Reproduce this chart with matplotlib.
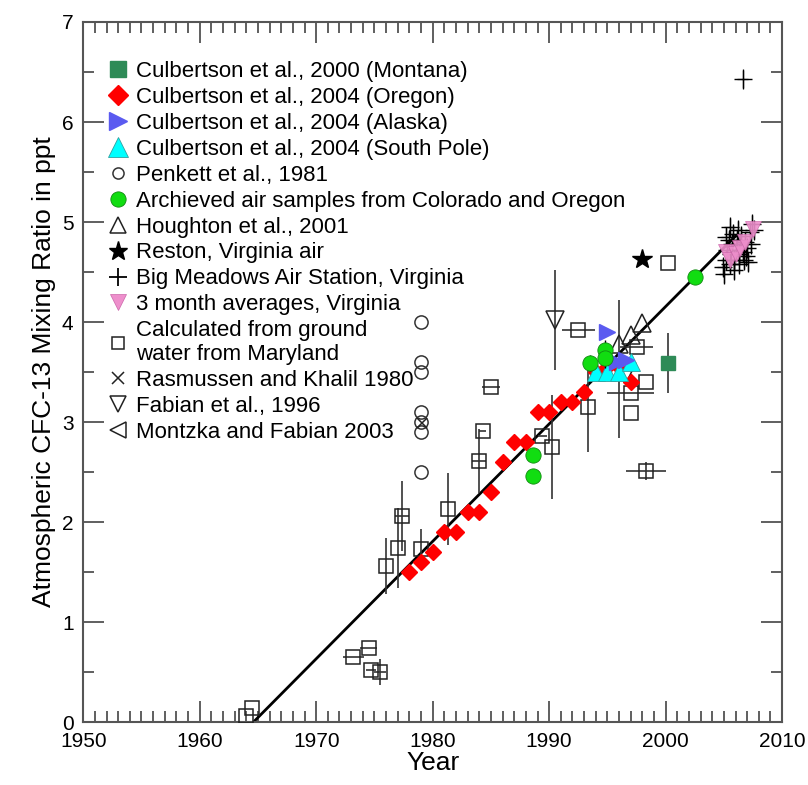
import matplotlib.pyplot as plt
from matplotlib.ticker import MultipleLocator
import numpy as np

plt.rcParams['font.family'] = ['Liberation Sans', 'DejaVu Sans']

# Culbertson et al., 2000 (Montana)
mont_x = [2000.2]
mont_y = [3.59]
mont_err = [0.3]

# Culbertson et al., 2004 (Oregon)
oreg_x = [1978, 1979, 1980, 1981, 1982, 1983, 1984, 1985, 1986, 1987, 1988,
          1989, 1990, 1991, 1992, 1993, 1994, 1995, 1996, 1997]
oreg_y = [1.5, 1.6, 1.7, 1.9, 1.9, 2.1, 2.1, 2.3, 2.6, 2.8, 2.8,
          3.1, 3.1, 3.2, 3.2, 3.3, 3.5, 3.55, 3.55, 3.4]

# Culbertson et al., 2004 (Alaska)
alas_x = [1995.0, 1995.8, 1996.6]
alas_y = [3.9, 3.6, 3.62]

# Culbertson et al., 2004 (South Pole)
spole_x = [1994.0, 1995.0, 1996.0, 1997.0]
spole_y = [3.5, 3.5, 3.5, 3.6]

# Penkett et al., 1981
penk_x = [1979.0] * 7
penk_y = [4.0, 3.6, 3.5, 3.1, 3.0, 2.9, 2.5]

# Archived air samples
arch_x = [1988.6, 1988.6, 1993.5, 1994.8, 1994.8, 2002.5]
arch_y = [2.67, 2.46, 3.59, 3.72, 3.64, 4.45]
arch_err = [0.05, 0.05, 0.08, 0.1, 0.1, 0.06]

# Houghton et al., 2001
hough_x = [1996.0, 1997.0, 1998.0]
hough_y = [3.78, 3.87, 3.99]
hough_lo = [0.94, 0, 0]
hough_hi = [0.44, 0, 0]

# Reston, Virginia air
rest_x = [1998.0]
rest_y = [4.63]

# Big Meadows Air Station
bigm_x = [2004.9, 2005.0, 2005.2, 2005.3, 2005.4, 2005.5, 2005.6, 2005.7,
          2005.8, 2005.9, 2006.0, 2006.1, 2006.2, 2006.3, 2006.4, 2006.5,
          2006.6, 2006.7, 2006.8, 2007.0, 2007.2, 2007.4, 2007.6, 2005.5,
          2005.9, 2006.3, 2006.9, 2007.1, 2007.3, 2005.2, 2006.6]
bigm_y = [4.55, 4.48, 4.62, 4.72, 4.82, 4.58, 4.68, 4.78,
          4.88, 4.62, 4.72, 4.82, 4.92, 4.68, 4.78, 4.86,
          4.70, 4.62, 4.80, 4.74, 4.90, 4.98, 4.92, 4.95,
          4.52, 4.58, 4.66, 4.60, 4.78, 4.85, 6.43]

# 3 month averages, Virginia
avg_x = [2005.2, 2005.5, 2006.0, 2006.4, 2006.8, 2007.5]
avg_y = [4.70, 4.62, 4.68, 4.74, 4.80, 4.93]

# Calculated from ground water from Maryland
gw_x = [1964.0, 1964.5, 1973.2, 1974.5, 1974.7, 1975.5, 1976.0, 1977.0, 1977.4,
        1979.0, 1981.3, 1984.0, 1984.3, 1985.0, 1989.4, 1990.2, 1992.5, 1993.3,
        1997.5, 1997.0, 1997.0, 1998.3, 1998.3, 2000.2]
gw_y = [0.06, 0.14, 0.65, 0.74, 0.52, 0.50, 1.56, 1.74, 2.06,
        1.73, 2.13, 2.61, 2.91, 3.35, 2.86, 2.75, 3.92, 3.15,
        3.75, 3.29, 3.09, 3.40, 2.51, 4.59]
gw_xerr = [0, 0, 0.9, 0.7, 0.4, 0.5, 0, 0, 0.6,
           0, 0, 0.6, 0.3, 0.8, 0.4, 0, 1.4, 0,
           1.4, 2.0, 0, 0, 1.7, 0]
gw_yerr = [0, 0, 0, 0, 0, 0.13, 0.28, 0.40, 0.35,
           0.2, 0.36, 0.32, 0, 0, 0, 0.52, 0, 0.45,
           0, 0, 0, 0, 0.09, 0]

# Rasmussen and Khalil 1980
rasm_x = [1979.1]
rasm_y = [2.99]

# Fabian et al., 1996
fab_x = [1990.5, 1996.7]
fab_y = [4.02, 3.50]
fab_err = [0.5, 0]

# trend line
fit_x = [1964.6, 2006.0]
fit_y = [0.0, 4.86]

fig, ax = plt.subplots(figsize=(8.08, 7.85), dpi=100)
fig.subplots_adjust(left=0.103, right=0.968, bottom=0.08, top=0.972)

ebc = '#333333'
ax.plot(fit_x, fit_y, color='black', lw=2, zorder=2)

ax.errorbar(gw_x, gw_y, xerr=gw_xerr, yerr=gw_yerr, fmt='s', ms=10, mfc='none',
            mec='#222222', mew=1.1, ecolor=ebc, elinewidth=1.2, zorder=3)
ax.errorbar(fab_x, fab_y, yerr=fab_err, fmt='v', ms=13, mfc='none',
            mec='#222222', mew=1.1, ecolor=ebc, elinewidth=1.2, zorder=3)
ax.errorbar(hough_x, hough_y, yerr=[hough_lo, hough_hi], fmt='^', ms=13, mfc='none',
            mec='#222222', mew=1.1, ecolor=ebc, elinewidth=1.2, zorder=3)
ax.plot(penk_x, penk_y, 'o', ms=9.5, mfc='none', mec='#333333', mew=1.1, zorder=3)
ax.plot(rasm_x, rasm_y, 'x', ms=7, color='#222222', mew=1.1, zorder=3)
ax.plot(oreg_x, oreg_y, 'D', ms=8.5, color='#ff0000', mec='#ff0000', zorder=4)
ax.plot(spole_x, spole_y, '^', ms=13, color='#00ffff', mec='#30a0a0', mew=0.6, zorder=4)
ax.plot(alas_x, alas_y, '>', ms=12, color='#5a5af0', mec='#5a5af0', zorder=4)
ax.errorbar(arch_x, arch_y, yerr=arch_err, fmt='o', ms=11, mfc='#11dd11',
            mec='#118811', mew=0.6, ecolor='black', elinewidth=1, zorder=5)
ax.errorbar(mont_x, mont_y, yerr=mont_err, fmt='s', ms=10, mfc='#2e8b57',
            mec='#2e8b57', ecolor=ebc, elinewidth=1.2, zorder=5)
ax.plot(rest_x, rest_y, '*', ms=15, color='black', zorder=5)
ax.errorbar(bigm_x, bigm_y, xerr=0.45, yerr=0.1, fmt='+', ms=13, color='black',
            mew=1.0, elinewidth=0.9, zorder=6)
ax.plot(avg_x, avg_y, 'v', ms=11, color='#ee8fcc', mec='#cc66aa', mew=0.5,
        alpha=0.9, zorder=7)

# legend handles
kw = dict(ls='none')
h = [
    ax.plot([], [], 's', ms=11, color='#2e8b57', **kw)[0],
    ax.plot([], [], 'D', ms=10, color='#ff0000', **kw)[0],
    ax.plot([], [], '>', ms=13, color='#5a5af0', **kw)[0],
    ax.plot([], [], '^', ms=14, color='#00ffff', mec='#30a0a0', mew=0.6, **kw)[0],
    ax.plot([], [], 'o', ms=8, mfc='none', mec='#333333', mew=1.1, **kw)[0],
    ax.plot([], [], 'o', ms=11, mfc='#11dd11', mec='#118811', mew=0.6, **kw)[0],
    ax.plot([], [], '^', ms=12, mfc='none', mec='#222222', mew=1.1, **kw)[0],
    ax.plot([], [], '*', ms=14, color='black', **kw)[0],
    ax.plot([], [], '+', ms=13, color='black', mew=1.3, **kw)[0],
    ax.plot([], [], 'v', ms=11, color='#ee8fcc', mec='#cc66aa', mew=0.5, **kw)[0],
    ax.plot([], [], 's', ms=8, mfc='none', mec='#222222', mew=1.1, **kw)[0],
    ax.plot([], [], 'x', ms=9, color='#222222', mew=1.1, **kw)[0],
    ax.plot([], [], 'v', ms=12, mfc='none', mec='#222222', mew=1.1, **kw)[0],
    ax.plot([], [], '<', ms=12, mfc='none', mec='#222222', mew=1.1, **kw)[0],
]
labels = [
    'Culbertson et al., 2000 (Montana)',
    'Culbertson et al., 2004 (Oregon)',
    'Culbertson et al., 2004 (Alaska)',
    'Culbertson et al., 2004 (South Pole)',
    'Penkett et al., 1981',
    'Archieved air samples from Colorado and Oregon',
    'Houghton et al., 2001',
    'Reston, Virginia air',
    'Big Meadows Air Station, Virginia',
    '3 month averages, Virginia',
    'Calculated from ground\nwater from Maryland',
    'Rasmussen and Khalil 1980',
    'Fabian et al., 1996',
    'Montzka and Fabian 2003',
]
ax.legend(h, labels, loc='upper left', bbox_to_anchor=(0.034, 0.944), frameon=False,
          fontsize=16, handlelength=1.0, handletextpad=0.3, labelspacing=0.22,
          borderaxespad=0, borderpad=0)

ax.set_xlim(1950, 2010)
ax.set_ylim(0, 7)
ax.xaxis.set_major_locator(MultipleLocator(10))
ax.xaxis.set_minor_locator(MultipleLocator(1))
ax.yaxis.set_major_locator(MultipleLocator(1))
ax.yaxis.set_minor_locator(MultipleLocator(0.5))
ax.tick_params(which='both', direction='in', top=True, right=True, color='#444444',
               width=1.2, labelsize=15, pad=7)
ax.tick_params(which='major', length=15)
ax.tick_params(which='minor', length=8)
for s in ax.spines.values():
    s.set_color('#555555')
    s.set_linewidth(1.5)

ax.set_xlabel('Year', fontsize=19, labelpad=0)
ax.set_ylabel('Atmospheric CFC-13 Mixing Ratio in ppt', fontsize=19, labelpad=4)

fig.savefig('out.png', dpi=100)
